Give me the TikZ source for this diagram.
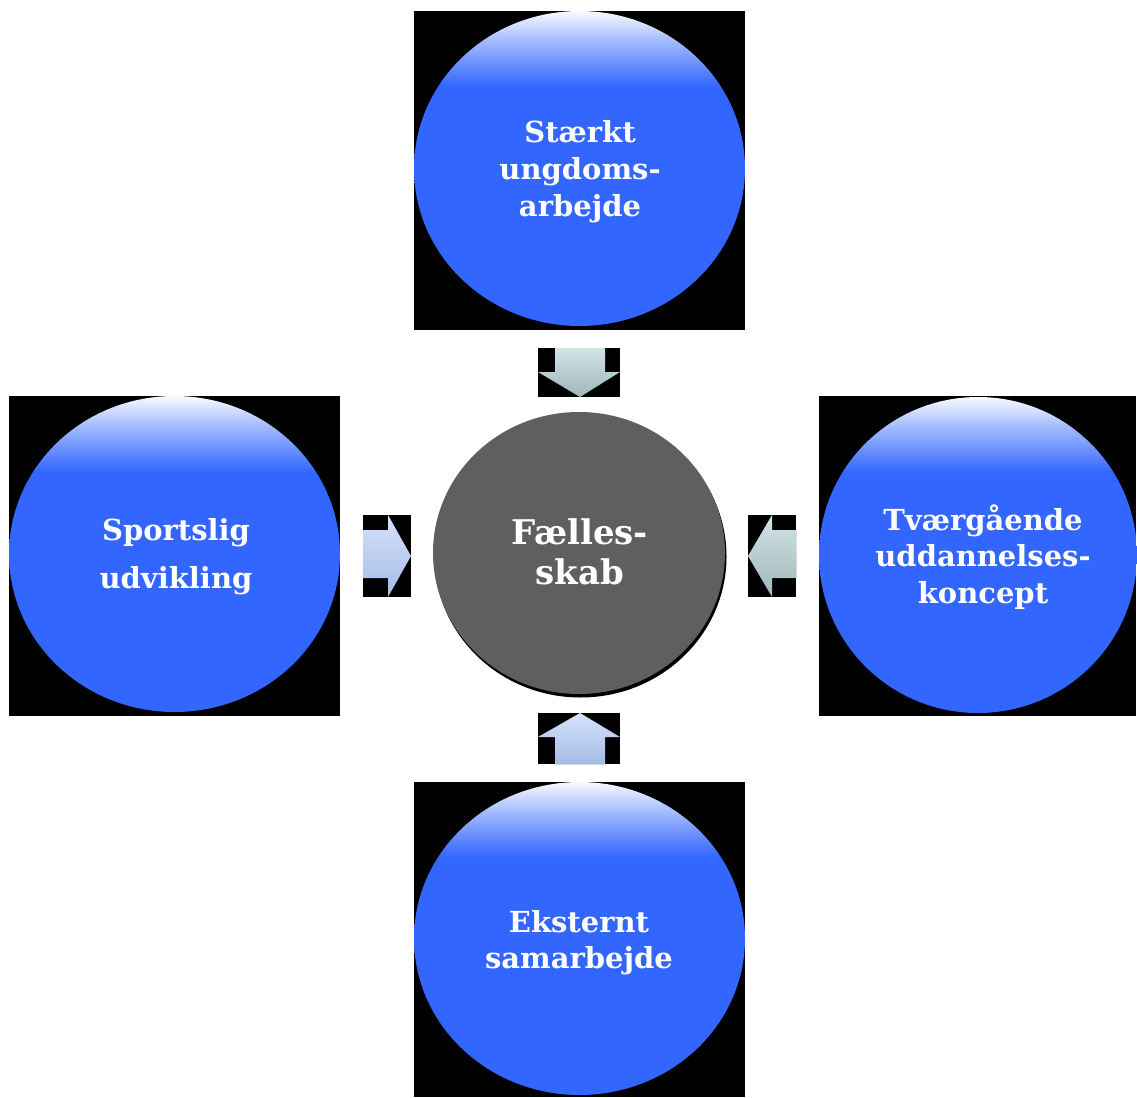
\documentclass[tikz,border=0pt]{standalone}
\usepackage{fontspec}
\setmainfont{DejaVu Serif}
\usetikzlibrary{shapes.geometric}
\definecolor{myblue}{RGB}{51,102,255}
\definecolor{midblue}{RGB}{150,178,255}
\definecolor{hlwhite}{RGB}{248,250,255}
\definecolor{cgray}{RGB}{95,95,95}
\definecolor{cyantop}{RGB}{208,228,230}
\definecolor{cyanbot}{RGB}{160,182,186}
\definecolor{lbtop}{RGB}{212,226,250}
\definecolor{lbbot}{RGB}{165,187,232}
\pgfdeclareverticalshading{bluehl}{100bp}{color(0bp)=(myblue); color(63bp)=(myblue); color(69.5bp)=(midblue); color(75bp)=(hlwhite); color(100bp)=(hlwhite)}
\tikzset{
  blacksq/.style={rectangle, fill=black, inner sep=0pt},
  bluecirc/.style={ellipse, shading=bluehl, inner sep=0pt},
  graycirc/.style={ellipse, fill=cgray, inner sep=0pt, minimum width=292pt, minimum height=282pt},
  shadowcirc/.style={ellipse, fill=black, inner sep=0pt, minimum width=292pt, minimum height=282pt},
  lbl/.style={text=white, align=center, font=\bfseries\fontsize{29}{37}\selectfont, inner sep=0pt},
  cyanarrow/.style={top color=cyantop, bottom color=cyanbot},
  bluearrow/.style={top color=lbtop, bottom color=lbbot},
}
\begin{document}
\begin{tikzpicture}[x=1pt,y=-1pt]
\useasboundingbox[fill=white] (0,0) rectangle (1137,1097);
% black backgrounds
\node[blacksq, minimum width=331pt, minimum height=319pt] (topbg) at (579.5,170.5) {};
\node[blacksq, minimum width=331pt, minimum height=320pt] (leftbg) at (174.5,556) {};
\node[blacksq, minimum width=317pt, minimum height=320pt] (rightbg) at (977.5,556) {};
\node[blacksq, minimum width=331pt, minimum height=315pt] (botbg) at (579.5,939.5) {};
% blue circles
\node[bluecirc, minimum width=331pt, minimum height=315pt] (top) at (579.5,168.5) {};
\node[bluecirc, minimum width=331pt, minimum height=316pt] (left) at (174.5,554) {};
\node[bluecirc, minimum width=318pt, minimum height=316pt] (right) at (978,555) {};
\node[bluecirc, minimum width=331pt, minimum height=313pt] (bottom) at (579.5,938.5) {};
% centre circle
\node[shadowcirc] (shadow) at (580.5,556.5) {};
\node[graycirc] (center) at (579,553) {};
% labels
\node[lbl] (toptext) at (580,171.5) {Stærkt\\ungdoms-\\arbejde};
\node[lbl, font=\bfseries\fontsize{29}{48}\selectfont] (lefttext) at (176,556.5) {Sportslig\\udvikling};
\node[lbl, font=\bfseries\fontsize{29}{36.5}\selectfont] (righttext) at (983,557) {Tværgående\\uddannelses-\\koncept};
\node[lbl, font=\bfseries\fontsize{29}{36}\selectfont] (bottomtext) at (579,942.5) {Eksternt\\samarbejde};
\node[lbl, font=\bfseries\fontsize{34}{40}\selectfont] (centertext) at (580,552) {Fælles-\\skab};
% arrow backgrounds
\node[blacksq, minimum width=82pt, minimum height=49pt] (downbg) at (579,372.5) {};
\node[blacksq, minimum width=48pt, minimum height=82pt] (rightarrbg) at (387,556) {};
\node[blacksq, minimum width=48pt, minimum height=82pt] (leftarrbg) at (772,556) {};
\node[blacksq, minimum width=82pt, minimum height=51pt] (upbg) at (579,738.5) {};
% block arrows
\fill[cyanarrow] (555,348) -- (605,348) -- (605,372) -- (620,372) -- (580,397) -- (538,372) -- (555,372) -- cycle;
\fill[bluearrow] (363,530) -- (388,530) -- (388,515) -- (411,556) -- (388,597) -- (388,578) -- (363,578) -- cycle;
\fill[cyanarrow] (796,530) -- (772,530) -- (772,515) -- (748,556) -- (772,597) -- (772,578) -- (796,578) -- cycle;
\fill[bluearrow] (555,764) -- (605,764) -- (605,737) -- (620,737) -- (580,713) -- (538,737) -- (555,737) -- cycle;
\end{tikzpicture}
\end{document}
